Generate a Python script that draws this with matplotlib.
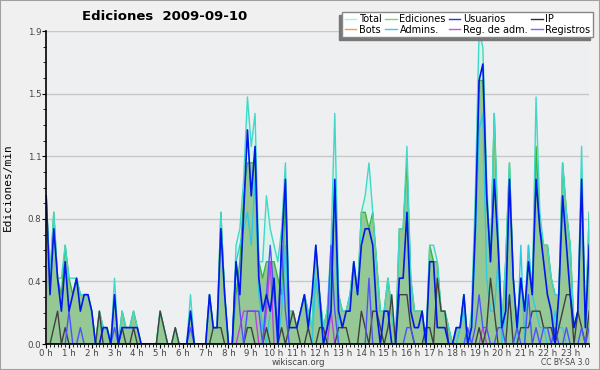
import numpy as np
import matplotlib.pyplot as plt
from matplotlib.patches import Rectangle

# edits per minute, one value per 10 minutes (144 slots)
total = [
    .9, .4, .8, .4, .4, .6,   .4, .4, .4, .3, .3, .3,   .2, 0, .2, .1, .1, 0,
    .4, 0, .2, .1, .1, .2,    .1, 0, 0, 0, 0, 0,        .2, .1, 0, 0, .1, 0,
    0, 0, .3, 0, 0, 0,        0, .3, .1, .1, .8, .3,    0, 0, .6, .7, 1.0, 1.5,
    1.2, 1.4, .5, .5, .9, .7, .6, .5, .7, 1.1, .2, .2,  .1, .2, .3, .2, .1, .6,
    .3, .1, .2, .6, 1.4, .3,  .2, .2, .3, .5, .3, .8,   .9, 1.1, .8, .5, .2, .2,
    .4, .2, 0, .7, .7, 1.2,   .4, .2, .2, .2, 0, .6,    .6, .5, .2, .2, .1, 0,
    .1, .1, .3, 0, .2, .9,    1.9, 1.8, 1.0, .5, 1.4, .7, .1, .5, 1.1, .4, .1, .4,
    .2, .6, .3, 1.5, .8, .6,  .6, .4, .3, .3, 1.1, .8,  .6, .1, .2, 1.2, .1, .8,
]
ediciones = [
    .9, .4, .8, .4, .3, .6,   .4, .3, .4, .3, .3, .3,   .2, 0, .2, .1, .1, 0,
    .3, 0, .2, .1, .1, .2,    .1, 0, 0, 0, 0, 0,        .2, .1, 0, 0, .1, 0,
    0, 0, .2, 0, 0, 0,        0, .3, .1, .1, .8, .3,    0, 0, .3, .5, .9, 1.1,
    1.1, 1.1, .5, .4, .5, .5, .5, .4, .3, .9, .2, .2,   .1, .2, .3, .2, .1, .6,
    .3, .1, .2, .5, .9, .3,   .2, .2, .3, .5, .3, .8,   .8, .7, .8, .5, .2, .2,
    .4, .2, 0, .7, .7, 1.1,   .4, .2, .2, .2, 0, .6,    .5, .5, .2, .2, .1, 0,
    .1, .1, .3, 0, .1, .8,    1.6, 1.6, .9, .5, 1.4, .6, .1, .5, 1.1, .4, .1, .4,
    .2, .5, .3, 1.2, .7, .6,  .6, .4, .3, .3, 1.1, .8,  .6, .1, .2, 1.0, .1, .8,
]
usuarios = [
    .9, .3, .7, .4, .2, .5,   .2, .3, .4, .2, .3, .3,   .2, 0, 0, .1, .1, 0,
    .3, 0, .1, .1, .1, .1,    .1, 0, 0, 0, 0, 0,        0, 0, 0, 0, 0, 0,
    0, 0, .2, 0, 0, 0,        0, .3, .1, .1, .7, .3,    0, 0, .5, .3, .8, 1.3,
    .9, 1.2, .4, .2, .3, .2,  .4, 0, .6, 1.0, .1, .1,   .1, .2, .3, .1, .3, .6,
    .3, 0, .1, .2, 1.0, .2,   .1, .2, .2, .5, .3, .6,   .7, .7, .6, .2, 0, .2,
    .2, 0, 0, .4, .4, .8,     .2, .1, .1, .2, 0, .5,    .5, .1, .1, .1, 0, 0,
    .1, .1, .3, 0, .1, .7,    1.6, 1.7, .9, .5, 1.0, .6, .1, .2, 1.0, .4, .1, .4,
    .2, .5, .3, 1.0, .7, .5,  .3, .2, 0, .3, .9, .6,    .3, .1, .2, 1.0, .1, .6,
]
ip = [
    0, 0, .1, .2, 0, .1,      0, 0, 0, 0, 0, 0,         0, 0, .2, 0, 0, 0,
    0, 0, .1, 0, 0, .1,       0, 0, 0, 0, 0, 0,         .2, .1, 0, 0, .1, 0,
    0, 0, 0, 0, 0, 0,         0, 0, .1, .1, .1, 0,      0, 0, 0, 0, 0, .1,
    .1, 0, 0, 0, .1, 0,       0, 0, .1, 0, .1, .2,      .1, 0, 0, .1, 0, 0,
    .1, .1, 0, 0, 0, .1,      .1, .1, 0, 0, 0, .2,      .1, 0, .2, .2, .1, 0,
    .1, .3, 0, .3, .3, .3,    .1, 0, 0, 0, .1, .1,      0, .4, .2, .2, 0, 0,
    0, 0, 0, 0, 0, 0,         .1, 0, .1, .4, .2, 0,     0, 0, .3, 0, 0, .1,
    .1, .1, .2, .2, .2, .1,   .1, .1, 0, .1, .2, .3,    .3, 0, .2, .1, 0, .2,
]
bots = [0] * 144
admins = [
    0, 0, 0, 0, 0, 0,         0, 0, 0, 0, 0, 0,         0, 0, 0, 0, 0, 0,
    0, 0, 0, 0, 0, 0,         0, 0, 0, 0, 0, 0,         0, 0, 0, 0, 0, 0,
    0, 0, 0, 0, 0, 0,         0, 0, 0, 0, 0, 0,         0, 0, .5, .6, .7, .8,
    .6, 1.0, .3, .1, 0, .2,   .3, 0, .2, .6, 0, 0,      0, 0, 0, 0, 0, .4,
    .2, 0, 0, .4, .9, 0,      0, 0, 0, 0, 0, 0,         0, 0, 0, 0, 0, 0,
    0, 0, 0, 0, 0, 0,         0, 0, 0, 0, 0, 0,         0, 0, 0, 0, 0, 0,
    0, .1, .2, 0, .1, .6,     1.3, 1.4, .4, .2, .2, .5, 0, .2, .3, 0, 0, .6,
    0, .6, .3, .2, .1, .1,    0, 0, .2, .1, .1, 0,      0, 0, 0, 0, 0, 0,
]
reg_adm = [
    0, 0, 0, 0, 0, 0,         0, 0, 0, 0, 0, 0,         0, 0, 0, 0, 0, 0,
    0, 0, 0, 0, 0, 0,         0, 0, 0, 0, 0, 0,         0, 0, 0, 0, 0, 0,
    0, 0, 0, 0, 0, 0,         0, 0, 0, 0, 0, 0,         0, 0, 0, .1, .2, .2,
    .2, .2, 0, 0, .2, .5,     0, 0, 0, 0, 0, 0,         0, 0, 0, 0, 0, 0,
    0, 0, 0, .2, 0, 0,        0, 0, 0, 0, 0, 0,         0, 0, 0, 0, 0, 0,
    0, 0, 0, 0, 0, 0,         0, 0, 0, 0, 0, 0,         0, 0, 0, 0, 0, 0,
    0, 0, 0, 0, 0, 0,         0, .1, 0, 0, 0, 0,        0, 0, 0, 0, 0, 0,
    0, 0, 0, 0, 0, 0,         0, 0, 0, 0, 0, 0,         0, 0, 0, 0, 0, 0,
]
registros = [
    0, 0, 0, 0, 0, 0,         .2, 0, 0, .1, 0, 0,       0, 0, 0, 0, 0, 0,
    .1, 0, 0, 0, 0, 0,        0, 0, 0, 0, 0, 0,         0, 0, 0, 0, 0, 0,
    0, 0, .1, 0, 0, 0,        0, 0, 0, 0, 0, 0,         0, 0, .5, .2, 0, .2,
    .2, .2, .2, 0, .3, .6,    .3, .1, .6, .2, 0, 0,     0, 0, 0, 0, 0, 0,
    0, 0, .1, .6, .2, 0,      0, 0, 0, 0, 0, 0,         0, .4, 0, 0, 0, 0,
    0, 0, 0, 0, 0, .1,        .1, 0, 0, 0, 0, 0,        0, 0, 0, 0, 0, 0,
    0, 0, 0, .1, 0, .1,       .3, .1, .1, 0, 0, .1,     .1, 0, 0, 0, .1, 0,
    0, .3, 0, .1, 0, .1,      .1, 0, .1, 0, 0, .1,      0, 0, 0, .1, 0, .1,
]
hour_labels = ['%d h' % h for h in range(24)]

x = np.arange(144) / 6.0

fig = plt.figure(figsize=(6, 3.7), dpi=100, facecolor='#f0f0f0')
fig.patches.append(Rectangle((0, 0), 1, 1, transform=fig.transFigure, fill=False,
                             edgecolor='#a0a0a0', linewidth=1.5))
ax = fig.add_axes([0.077, 0.07, 0.905, 0.846])
ax.set_facecolor('#eeeff1')

ax.fill_between(x, total, color='#d8f3ec', linewidth=0)
ax.fill_between(x, ediciones, color='#96c896', linewidth=0)
ax.plot(x, bots, color='#f0a040', lw=1)
ax.plot(x, ediciones, color='#3cb43c', lw=1)
ax.plot(x, total, color='#40d8c8', lw=1)
ax.plot(x, admins, color='#30c8e0', lw=1)
ax.plot(x, reg_adm, color='#c040e0', lw=1)
ax.plot(x, ip, color='#404040', lw=1)
ax.plot(x, registros, color='#5050ff', lw=1)
ax.plot(x, usuarios, color='#0018e8', lw=1.2)

# legend in the reference order (row wise)
h = {}
for name, col in [('Total', '#b0ece4'), ('Ediciones', '#80d080'), ('Usuarios', '#3030e0'),
                  ('IP', '#303030'), ('Bots', '#f0a040'), ('Admins.', '#40c8e0'),
                  ('Reg. de adm.', '#d050e0'), ('Registros', '#7070f0')]:
    h[name], = ax.plot([], [], color=col, lw=1)
order = ['Total', 'Bots', 'Ediciones', 'Admins.', 'Usuarios', 'Reg. de adm.', 'IP', 'Registros']
leg = ax.legend([h[k] for k in order], order, ncol=4, loc='upper right',
                bbox_to_anchor=(1.007, 1.062), borderaxespad=0, fontsize=7,
                frameon=True, shadow={'ox': -2.5, 'oy': -2.5, 'color': '#777777', 'alpha': 1},
                fancybox=False, handlelength=1.2, handletextpad=0.3, columnspacing=0.3,
                labelspacing=0.05, borderpad=0.25)
leg.get_frame().set_edgecolor('#888888')
leg.get_frame().set_facecolor('white')
leg.get_frame().set_alpha(1)

ax.set_xlim(0, 143 / 6.0)
ax.set_ylim(0, 1.9)
yt = np.linspace(0, 1.9, 6)
ax.set_yticks(yt)
ax.set_yticklabels(['%.1f' % v for v in yt])
ax.set_yticks(np.linspace(0, 1.9, 21), minor=True)
ax.set_xticks(np.arange(24))
ax.set_xticklabels(hour_labels)
ax.set_xticks(np.arange(144) / 6.0, minor=True)
ax.grid(axis='y', color='#c8c8c8', lw=1)
ax.set_axisbelow(True)
for s in ['top', 'right']:
    ax.spines[s].set_visible(False)
ax.spines['left'].set_linewidth(1.2)
ax.spines['bottom'].set_linewidth(1.2)
ax.tick_params(axis='both', which='major', labelsize=6.2, colors='black',
               labelcolor='#444444', length=3, pad=0.5)
ax.tick_params(axis='both', which='minor', length=2.5)

ax.set_ylabel('Ediciones/min', family='DejaVu Sans Mono', fontsize=8, labelpad=11)
fig.text(0.275, 0.955, 'Ediciones  2009-09-10', fontsize=9.5, fontweight='bold',
         ha='center', va='center')
fig.text(0.497, 0.02, 'wikiscan.org', fontsize=6.2, color='#444444', ha='center', va='center')
fig.text(0.983, 0.02, 'CC BY-SA 3.0', fontsize=5.5, color='#444444', ha='right', va='center')

fig.savefig('out.png', dpi=100, facecolor=fig.get_facecolor())
